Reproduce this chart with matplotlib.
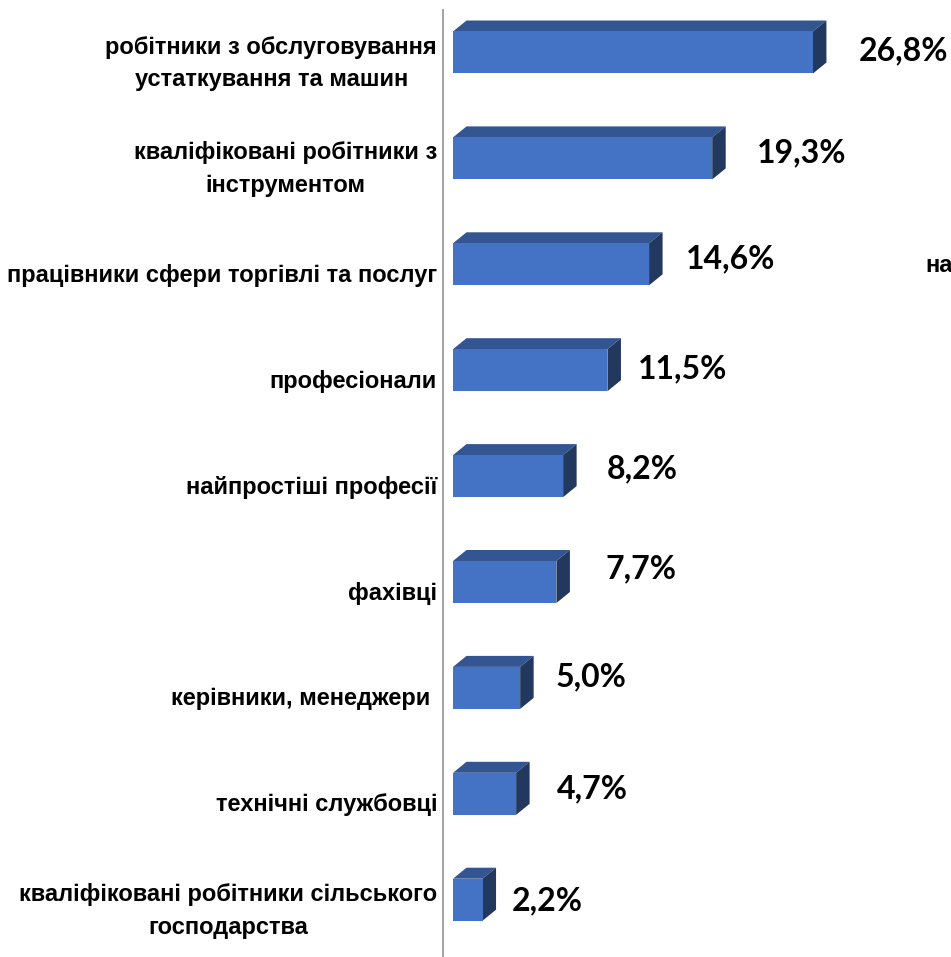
import matplotlib
matplotlib.use("Agg")
import matplotlib.pyplot as plt
from matplotlib.patches import Polygon, Rectangle

categories = [
    "робітники з обслуговування\nустаткування та машин",
    "кваліфіковані робітники з\nінструментом",
    "працівники сфери торгівлі та послуг",
    "професіонали",
    "найпростіші професії",
    "фахівці",
    "керівники, менеджери ",
    "технічні службовці",
    "кваліфіковані робітники сільського\nгосподарства",
]
values = [26.8, 19.3, 14.6, 11.5, 8.2, 7.7, 5.0, 4.7, 2.2]
value_labels = ["26,8%", "19,3%", "14,6%", "11,5%", "8,2%", "7,7%", "5,0%", "4,7%", "2,2%"]

# hand placement of the value labels (pixels right of the bar's back edge, pixels up)
label_dx = [32, 31, 23, 17, 30, 36, 22, 27, 16]
label_dy = [2, 6, 5, 1, 7, 13, 11, 5, -1.5]

W, H, DPI = 951, 957, 100
PX_PER_PCT = 13.43
PX_PER_ROW = 105.9

front_c = "#4472C4"
top_c = "#335592"
side_c = "#22385f"

fig = plt.figure(figsize=(W / DPI, H / DPI), dpi=DPI)
ax = fig.add_axes([443 / W, 0, 1 - 443 / W, 947 / H])

x0 = -10 / PX_PER_PCT
ax.set_xlim(x0, x0 + (W - 443) / PX_PER_PCT)
ax.set_ylim((947 - 42.5) / PX_PER_ROW, -42.5 / PX_PER_ROW)

h = 42 / PX_PER_ROW
dx = 13.5 / PX_PER_PCT
dy = 11 / PX_PER_ROW

for i, v in enumerate(values):
    top, bot = i - h / 2, i + h / 2
    ax.add_patch(Polygon([(0, top), (v, top), (v + dx, top - dy), (dx, top - dy)],
                         closed=True, facecolor=top_c, edgecolor="none"))
    ax.add_patch(Polygon([(v, top), (v + dx, top - dy), (v + dx, bot - dy), (v, bot)],
                         closed=True, facecolor=side_c, edgecolor="none"))
    ax.add_patch(Rectangle((0, top), v, h, facecolor=front_c, edgecolor="none"))

    ax.annotate(value_labels[i], xy=(v + dx, i), xytext=(label_dx[i], label_dy[i]),
                textcoords="offset pixels", ha="left", va="center",
                fontsize=23, fontweight="bold", family="Lato", color="black")

    ax.text((437 - 453) / PX_PER_PCT, i + 11 / PX_PER_ROW, categories[i],
            ha="right", va="center", multialignment="center",
            fontsize=17, fontweight="bold", family="Liberation Sans",
            linespacing=1.55, clip_on=False)

# stray, cut-off label at the right edge of the original
fig.text(925 / W, 1 - 265 / H, "на", ha="left", va="center",
         fontsize=17, fontweight="bold", family="Liberation Sans")

for s in ["top", "right", "bottom"]:
    ax.spines[s].set_visible(False)
ax.spines["left"].set_color("#a6a6a6")
ax.spines["left"].set_linewidth(1.5)
ax.set_xticks([])
ax.set_yticks([])

fig.savefig("out.png", dpi=DPI, facecolor="white")
